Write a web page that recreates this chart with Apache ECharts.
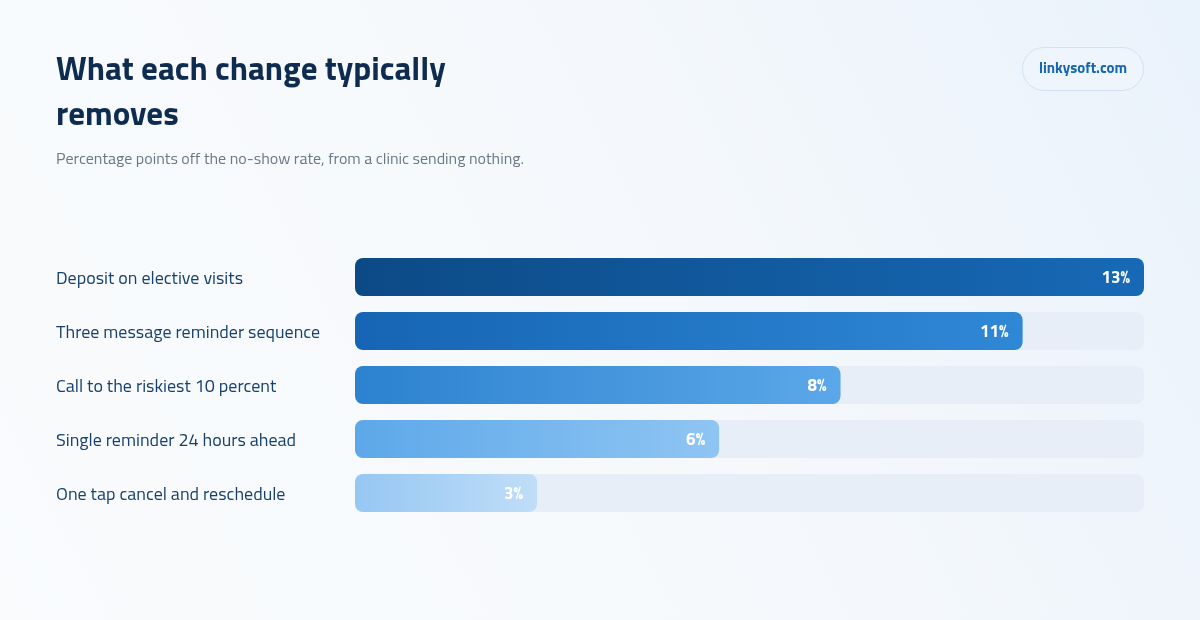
<!DOCTYPE html>
<html>
<head>
<meta charset="utf-8">
<script src="https://cdn.jsdelivr.net/npm/echarts@6/dist/echarts.min.js"></script>
<style>
  html, body { margin: 0; padding: 0; }
  #chart { width: 1200px; height: 620px; }
</style>
</head>
<body>
<div id="chart"></div>
<script>
var categories = [
  'Deposit on elective visits',
  'Three message reminder sequence',
  'Call to the riskiest 10 percent',
  'Single reminder 24 hours ahead',
  'One tap cancel and reschedule'
];
var values = [13, 11, 8, 6, 3];
var barColors = [
  ['#0c4a86', '#1769b6'],
  ['#1565b4', '#2f88d6'],
  ['#2c82cf', '#5ba7e9'],
  ['#5da8e9', '#8fc5f3'],
  ['#96c7f3', '#c0ddf8']
];

var FONT = '"Titillium Web", Roboto, "Noto Sans", sans-serif';
var chart = echarts.init(document.getElementById('chart'));

var option = {
  backgroundColor: {
    type: 'linear', x: 0, y: 1, x2: 1, y2: 0,
    colorStops: [
      { offset: 0, color: '#f9fbfd' },
      { offset: 0.5, color: '#f6f9fc' },
      { offset: 1, color: '#eaf2fb' }
    ]
  },
  textStyle: { fontFamily: FONT },
  title: {
    text: 'What each change typically\nremoves',
    subtext: 'Percentage points off the no-show rate, from a clinic sending nothing.',
    left: 56,
    top: 49,
    padding: 0,
    itemGap: 13,
    textStyle: {
      fontFamily: FONT,
      fontSize: 33,
      fontWeight: 'bold',
      color: '#0e2c4f',
      lineHeight: 45
    },
    subtextStyle: {
      fontFamily: FONT,
      fontSize: 16,
      color: '#6c7887'
    }
  },
  graphic: [{
    type: 'group',
    left: 1022,
    top: 47,
    children: [{
      type: 'rect',
      shape: { x: 0, y: 0, width: 121, height: 43, r: 21.5 },
      style: { fill: '#eef5fd', stroke: '#d2e2f4', lineWidth: 1 }
    }, {
      type: 'text',
      style: {
        x: 60.5, y: 22,
        text: 'linkysoft.com',
        align: 'center',
        verticalAlign: 'middle',
        fill: '#1666b3',
        font: 'bold 15px ' + FONT
      }
    }]
  }],
  grid: { left: 355, right: 56, top: 250, bottom: 100 },
  xAxis: {
    type: 'value',
    min: 0,
    max: 13,
    show: false
  },
  yAxis: {
    type: 'category',
    inverse: true,
    data: categories,
    axisLine: { show: false },
    axisTick: { show: false },
    splitLine: { show: false },
    axisLabel: {
      align: 'left',
      margin: 299,
      formatter: '{n|{value}}',
      rich: {
        n: {
          fontSize: 18,
          fontWeight: 500,
          color: '#17406d',
          fontFamily: FONT,
          padding: [6, 0, 0, 0]
        }
      }
    }
  },
  series: [{
    type: 'bar',
    barWidth: 38,
    showBackground: true,
    backgroundStyle: { color: '#e7eef8', borderRadius: 8 },
    data: values.map(function (v, i) {
      return {
        value: v,
        itemStyle: {
          borderRadius: 8,
          color: {
            type: 'linear', x: 0, y: 0, x2: 1, y2: 0,
            colorStops: [
              { offset: 0, color: barColors[i][0] },
              { offset: 1, color: barColors[i][1] }
            ]
          }
        }
      };
    }),
    label: {
      show: true,
      position: 'insideRight',
      distance: 14,
      formatter: '{v|{c}%}',
      rich: {
        v: {
          color: '#ffffff',
          fontWeight: 'bold',
          fontSize: 17,
          fontFamily: FONT,
          padding: [4, 0, 0, 0]
        }
      }
    }
  }]
};

chart.setOption(option);
</script>
</body>
</html>
